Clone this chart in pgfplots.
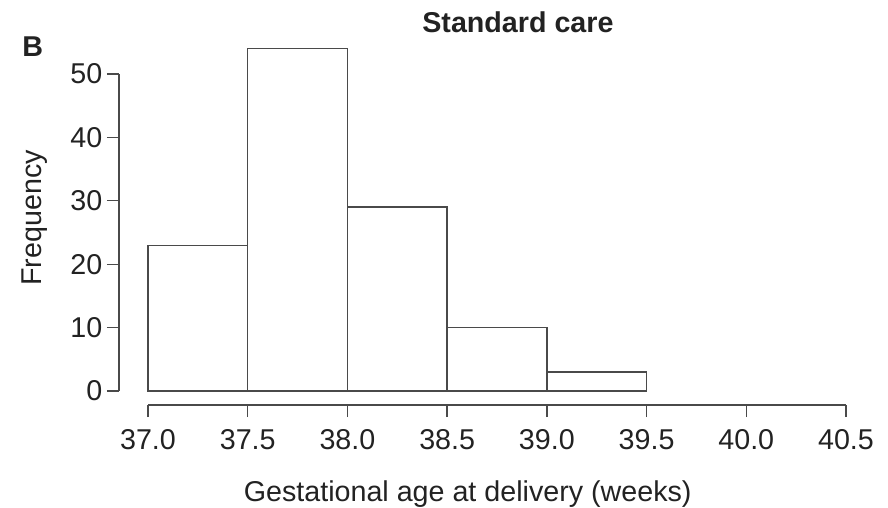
\documentclass[border=0pt]{standalone}
\usepackage{fontspec}
\setmainfont{Liberation Sans}
\usepackage{pgfplots}
\pgfplotsset{compat=1.18}
\definecolor{ln}{HTML}{4A4A4A}
\definecolor{tx}{HTML}{222222}
\begin{document}
\begin{tikzpicture}
\path[use as bounding box] (0pt,0pt) rectangle (666pt,-380.25pt);
\begin{axis}[
  at={(111pt,-293.25pt)}, anchor=south west,
  scale only axis, width=523.5pt, height=237.75pt,
  xmin=37, xmax=40.5, ymin=0, ymax=50,
  clip=false,
  axis x line=bottom, axis y line=left,
  axis x line shift=10.5pt, axis y line shift=21.75pt,
  axis line style={-, draw=ln, line width=1pt},
  xtick={37,37.5,...,40.5}, ytick={0,10,...,50},
  tick align=outside, major tick length=9pt,
  tick style={draw=ln, line width=1pt},
  /pgf/number format/assume math mode=true,
  ticklabel style={font=\fontsize{21.5}{24}\selectfont, text=tx},
  xticklabel style={yshift=-6pt, /pgf/number format/.cd, fixed, fixed zerofill, precision=1},
  title={\textbf{Standard care}},
  title style={at={(axis description cs:0.53,1.137)}, anchor=center, font=\fontsize{21.5}{24}\selectfont, text=tx},
  xlabel={Gestational age at delivery (weeks)},
  xlabel style={at={(axis description cs:0.458,-0.326)}, anchor=center, font=\fontsize{21.5}{24}\selectfont, text=tx},
  ylabel={Frequency},
  ylabel style={at={(axis description cs:-0.163,0.546)}, anchor=center, rotate=0, font=\fontsize{21.5}{24}\selectfont, text=tx},
]
\addplot[ybar interval, fill=white, draw=ln, line width=1pt] coordinates {
  (37,23) (37.5,54) (38,29) (38.5,10) (39,3) (39.5,3)
};
\node[anchor=center, font=\fontsize{21.5}{24}\selectfont\bfseries, text=tx] at (axis description cs:-0.165,1.085) {B};
\end{axis}
\end{tikzpicture}
\end{document}
